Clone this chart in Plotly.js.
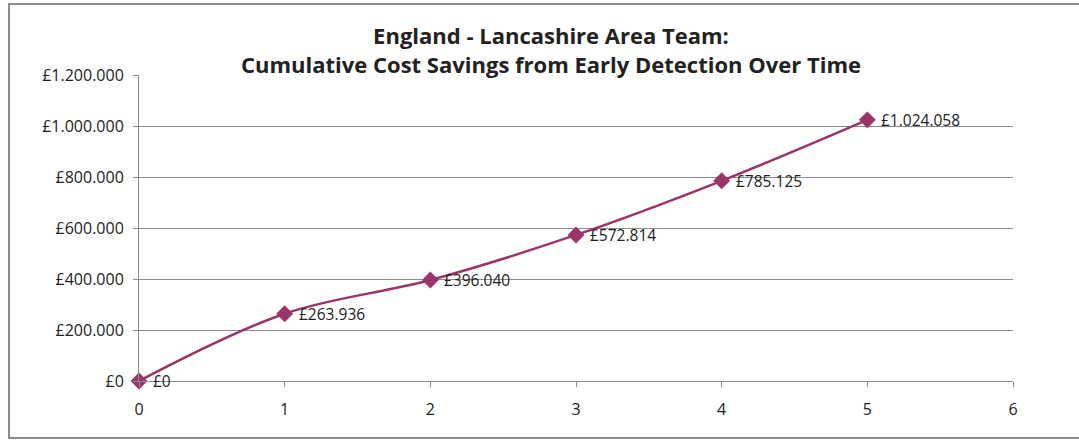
<!DOCTYPE html>
<html>
<head>
<meta charset="utf-8">
<script src="https://cdn.plot.ly/plotly-3.0.1.min.js"></script>
<style>
  html, body { margin: 0; padding: 0; background: #fff; }
  #wrap { position: relative; width: 1079px; height: 448px; overflow: hidden; }
  #chart { position: absolute; left: 0; top: 0; width: 1079px; height: 448px; }
  #frame { position: absolute; left: 8px; top: 3px; width: 1080px; height: 436px;
           border: 2px solid #8c8c8c; box-sizing: border-box; pointer-events: none; }
</style>
</head>
<body>
<div id="wrap"><div id="chart"></div><div id="frame"></div></div>
<script>
const years = [0, 1, 2, 3, 4, 5];
const savings = [0, 263936, 396040, 572814, 785125, 1024058];
const titleLines = ["England - Lancashire Area Team:", "Cumulative Cost Savings from Early Detection Over Time"];

function fmt(v) {
  return "£" + Math.round(v).toString().replace(/\B(?=(\d{3})+(?!\d))/g, ".");
}
const labels = savings.map(fmt);

const color = "#9B3468";
const fontFam = "'Open Sans', sans-serif";

const trace = {
  x: years, y: savings,
  type: "scatter", mode: "lines+markers",
  line: { color: color, width: 2.5, shape: "spline", smoothing: 1.0 },
  marker: { symbol: "diamond", size: 13, color: color },
  cliponaxis: false,
  hoverinfo: "skip"
};

const annotations = years.map((x, i) => ({
  x: x, y: savings[i], xref: "x", yref: "y",
  text: labels[i], showarrow: false,
  xanchor: "left", yanchor: "middle", xshift: 12, yshift: 0,
  font: { family: fontFam, size: 15.5, color: "#222" }
}));

const layout = {
  width: 1079, height: 448,
  margin: { l: 139, r: 66, t: 75, b: 67 },
  paper_bgcolor: "#fff", plot_bgcolor: "#fff",
  separators: ",.",
  showlegend: false,
  font: { family: fontFam, size: 16, color: "#222" },
  title: {
    text: "<b>" + titleLines.join("<br>") + "</b>",
    font: { family: fontFam, size: 22, color: "#222" },
    x: 551 / 1079, xref: "container", xanchor: "center",
    y: 1 - 44 / 448, yref: "container", yanchor: "top"
  },
  annotations: annotations,
  xaxis: {
    range: [0, 6], dtick: 1, tick0: 0,
    showgrid: false, zeroline: false,
    showline: true, linecolor: "#8c8c8c", linewidth: 1,
    ticks: "outside", ticklen: 5, tickcolor: "#8c8c8c",
    ticklabelstandoff: 9,
    tickfont: { family: fontFam, size: 16, color: "#222" },
    fixedrange: true
  },
  yaxis: {
    range: [0, 1200000], dtick: 200000, tick0: 0,
    tickprefix: "£", tickformat: ",d",
    showgrid: true, gridcolor: "#8c8c8c", gridwidth: 1,
    zeroline: false,
    showline: true, linecolor: "#8c8c8c", linewidth: 1,
    ticks: "outside", ticklen: 5, tickcolor: "#8c8c8c",
    ticklabelstandoff: 6,
    tickfont: { family: fontFam, size: 16, color: "#222" },
    fixedrange: true
  }
};

Plotly.newPlot("chart", [trace], layout, { displayModeBar: false, staticPlot: true });
</script>
</body>
</html>
